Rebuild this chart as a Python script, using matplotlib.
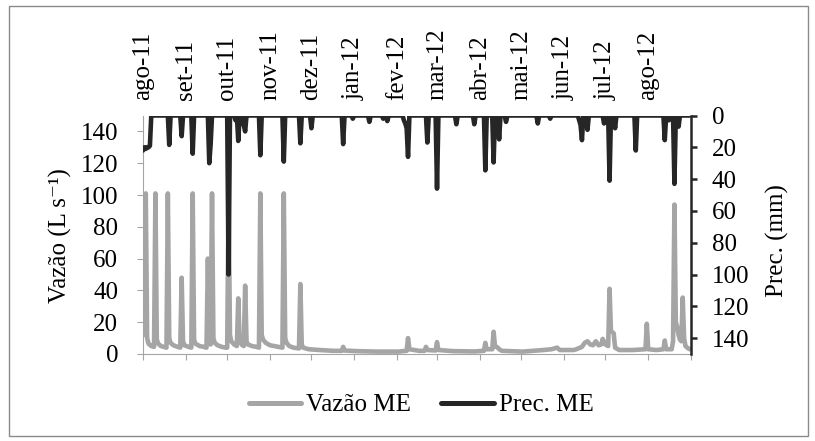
import numpy as np
import matplotlib
matplotlib.use("Agg")
import matplotlib.pyplot as plt
from matplotlib.lines import Line2D
from matplotlib.patches import Rectangle

plt.rcParams['font.family'] = ['Liberation Serif', 'DejaVu Serif']

# Record period: daily values from 1 Aug 2011 to 31 Aug 2012
start = np.datetime64('2011-08-01')
month_starts = np.arange(np.datetime64('2011-08'), np.datetime64('2012-10'),
                         dtype='datetime64[M]').astype('datetime64[D]')
month_labels = ['ago-11', 'set-11', 'out-11', 'nov-11', 'dez-11', 'jan-12',
                'fev-12', 'mar-12', 'abr-12', 'mai-12', 'jun-12', 'jul-12',
                'ago-12']

# Streamflow (L/s), day of record -> value
flow_day = [0, 1, 2, 3, 4, 6, 8, 9, 10, 11, 13, 15, 17, 18, 19, 20, 22, 25, 27,
            28, 29, 30, 33, 35, 36, 37, 38, 41, 44, 46, 47, 48, 49, 50, 51, 52,
            54, 57, 60, 61, 62, 63, 64, 66, 68, 69, 70, 72, 73, 74, 75, 76, 79,
            82, 84, 85, 86, 87, 89, 92, 95, 98, 101, 102, 103, 104, 106, 109,
            113, 114, 115, 116, 120, 128, 138, 144, 145, 146, 155, 170, 185,
            191, 192, 193, 200, 204, 205, 206, 212, 213, 214, 225, 240, 247,
            248, 249, 253, 254, 255, 257, 258, 260, 275, 290, 296, 300, 302,
            312, 314, 318, 320, 322, 324, 326, 328, 330, 332, 333, 335, 337,
            338, 339, 341, 342, 345, 355, 364, 365, 366, 372, 377, 378, 379,
            383, 384, 385, 386, 387, 388, 389, 390, 391, 392, 393, 395, 396]
flow_val = [20, 12, 101, 10, 6.5, 5, 4.5, 101, 9, 6.5, 5, 4.5, 4, 101, 10, 7,
            5.5, 4.5, 4, 48, 8, 5.5, 4.5, 4, 101, 9, 6.5, 5, 4.5, 4, 60, 8, 6,
            101, 10, 7, 5.5, 4.5, 4, 4, 101, 12, 8, 6, 5, 35, 8, 5.5, 5, 43, 8,
            6, 5, 4.5, 4, 101, 12, 9, 7, 5.5, 5, 4.5, 4, 101, 10, 7, 5, 4,
            3.5, 44, 6, 4, 3, 2.5, 2, 2, 4.5, 2.2, 1.8, 1.5, 1.5,
            2, 10, 3, 2, 2, 4.5, 2.5, 2.2, 7.5, 2.5, 1.8, 1.6, 2,
            7, 3, 3, 14, 5, 4, 3, 2, 1.5, 2.5, 3, 4, 2.5,
            2.5, 3, 4.5, 7, 8, 6, 5.5, 8, 5.5, 6, 9.5, 6, 5,
            41, 14.5, 13, 4, 2.5, 2.5, 3, 19, 3, 2.5, 3, 8.5, 3,
            3, 8, 94, 20, 17, 12, 9, 8, 35.5, 10, 5, 3.5, 3]

# Daily rainfall (mm) on rainy days; all other days are dry
rain_day = [0, 1, 2, 3, 4, 5, 19, 28, 36, 48, 49, 62, 67, 69, 71, 73, 74, 85,
            102, 114, 122, 145, 152, 164, 174, 177, 189, 190, 191, 192, 206,
            213, 227, 240, 248, 254, 258, 263, 286, 295, 316, 317, 318, 322,
            334, 338, 342, 357, 378, 381, 385, 388]
rain_mm = [22, 20, 21, 20, 20, 19, 18.5, 13, 24, 30, 18, 100, 3, 16, 5, 6, 10,
           25, 29, 17.5, 8, 18, 2, 4, 2, 3.5, 3, 5, 8, 26, 17, 46, 5.5, 5.5,
           34.5, 29.5, 15, 4, 5, 2, 3, 6, 15.5, 9, 5, 41, 8, 22, 15.5, 3, 43, 7]

GRAY = '#a5a5a5'
DARK = '#262626'
FS = 18
LW = 3.3

n_days = int((month_starts[-1] - start).astype(int))
days = np.arange(n_days)
rain = np.zeros(n_days)
rain[np.array(rain_day)] = rain_mm
tick_pos = (month_starts - start).astype(int)

W, H = 815, 441
fig = plt.figure(figsize=(W / 100, H / 100), dpi=100)
fig.add_artist(Rectangle((8.5 / W, 5.5 / H), 799 / W, 430 / H,
                         transform=fig.transFigure, fill=False,
                         edgecolor='#8a8a8a', lw=1))

ax = fig.add_axes([143 / W, (H - 354) / H, (691 - 143) / W, (354 - 115.5) / H])
ax.plot(flow_day, flow_val, color=GRAY, lw=LW, solid_joinstyle='round',
        solid_capstyle='round')
ax.set_xlim(0, n_days)
ax.set_ylim(0, 150)
ax.set_yticks(np.arange(0, 141, 20))
ax.set_xticks(tick_pos)
ax.set_xticklabels(month_labels + [''], rotation=90)
ax.tick_params(axis='x', bottom=True, top=False, labelbottom=False,
               labeltop=True, direction='out', length=4.3, color=GRAY,
               pad=6.5, labelsize=FS)
ax.tick_params(axis='y', direction='out', length=4.3, color=GRAY, pad=13.5,
               labelsize=FS)
for s in ('top', 'right'):
    ax.spines[s].set_visible(False)
ax.spines['left'].set_color(GRAY)
ax.spines['bottom'].set_color(GRAY)

ax2 = ax.twinx()
ax2.plot(days, rain, color=DARK, lw=LW, solid_joinstyle='round',
         solid_capstyle='round')
ax2.set_ylim(150, 0)
ax2.set_yticks(np.arange(0, 141, 20))
ax2.tick_params(axis='y', direction='out', length=4.5, width=1.8, color=DARK,
                pad=10.5, labelsize=FS)
for s in ('top', 'left', 'bottom'):
    ax2.spines[s].set_visible(False)
ax2.spines['right'].set_color(DARK)
ax2.spines['right'].set_linewidth(1.8)

fig.text(60 / W, 1 - 236 / H, 'Vazão (L s⁻¹)', rotation=90,
         ha='center', va='center', fontsize=FS)
fig.text(777 / W, 1 - 241 / H, 'Prec. (mm)', rotation=90,
         ha='center', va='center', fontsize=FS)

handles = [Line2D([], [], color=GRAY, lw=3.6, solid_capstyle='round'),
           Line2D([], [], color=DARK, lw=3.6, solid_capstyle='round')]
fig.legend(handles, ['Vazão ME', 'Prec. ME'], loc='center',
           bbox_to_anchor=(421 / W, 1 - 405 / H), ncol=2, frameon=False,
           fontsize=FS, handlelength=2.1, handletextpad=0.2,
           columnspacing=1.2)

fig.savefig('out.png', dpi=100)
